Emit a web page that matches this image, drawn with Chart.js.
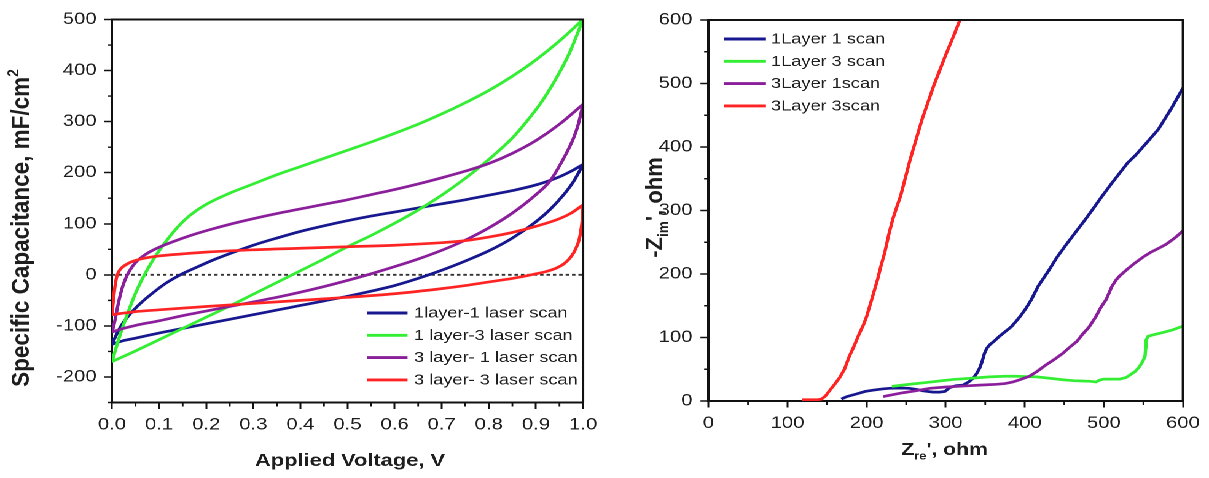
<!DOCTYPE html>
<html><head><meta charset="utf-8">
<script src="https://cdn.jsdelivr.net/npm/chart.js@4.4.1/dist/chart.umd.min.js"></script>
<style>
html,body{margin:0;padding:0;background:#fff;overflow:hidden;width:1209px;height:478px;}
#stage{position:absolute;left:0;top:0;width:984px;height:478px;transform-origin:0 0;transform:scaleX(1.22866);}
.box{position:absolute;top:0;width:492px;height:478px;}
#b1{left:0}#b2{left:492px}
</style></head><body>
<div id="stage"><div class="box" id="b1"><canvas id="c1"></canvas></div><div class="box" id="b2"><canvas id="c2"></canvas></div></div>
<script>
// ---------- Left panel: specific capacitance vs applied voltage ----------
const cvLabels = ['1layer-1 laser scan', '1 layer-3 laser scan', '3 layer- 1 laser scan', '3 layer- 3 laser scan'];
const cvXTicks = [0, 0.1, 0.2, 0.3, 0.4, 0.5, 0.6, 0.7, 0.8, 0.9, 1.0];
const cvXMinor = [0.05, 0.15, 0.25, 0.35, 0.45, 0.55, 0.65, 0.75, 0.85, 0.95];
const cvYTicks = [-200, -100, 0, 100, 200, 300, 400, 500];
const cvYMinor = [-250, -150, -50, 50, 150, 250, 350, 450];
const zeroLineV = [0, 1];
const zeroLineC = [0, 0];

// forward (upper) and reverse (lower) branches, voltage ascending
const cvV_fwd_1L1S = [0,0.01,0.02,0.03,0.045,0.065,0.09,0.115,0.145,0.18,0.22,0.26,0.3,0.35,0.4,0.45,0.5,0.55,0.6,0.65,0.7,0.75,0.8,0.85,0.9,0.95,0.975,1.0];
const cvC_fwd_1L1S = [-136,-116,-99,-86,-70,-52,-33,-16,0,15,31,45,58,72,85,96,106,115,123,131,139,147,156,165,176,192,203,216];
const cvV_rev_1L1S = [0,0.02,0.05,0.1,0.15,0.2,0.25,0.3,0.35,0.4,0.45,0.5,0.55,0.6,0.65,0.7,0.75,0.8,0.85,0.9,0.93,0.96,0.98,1.0];
const cvC_rev_1L1S = [-136,-130,-124,-114,-105,-96,-87,-78,-69,-60,-51,-42,-32,-21,-7,9,27,47,72,104,128,158,183,216];

const cvV_fwd_1L3S = [0,0.01,0.02,0.03,0.04,0.05,0.06,0.07,0.085,0.1,0.12,0.14,0.165,0.2,0.25,0.3,0.35,0.4,0.45,0.5,0.55,0.6,0.65,0.7,0.75,0.8,0.85,0.9,0.95,1.0];
const cvC_fwd_1L3S = [-170,-139,-110,-84,-59,-36,-16,2,26,47,72,94,116,138,160,178,196,212,228,244,260,277,295,315,337,361,389,421,458,500];
const cvV_rev_1L3S = [0,0.05,0.1,0.15,0.2,0.25,0.3,0.35,0.4,0.45,0.5,0.55,0.6,0.65,0.7,0.75,0.8,0.85,0.88,0.91,0.94,0.97,1.0];
const cvC_rev_1L3S = [-170,-149,-127,-105,-83,-61,-38,-15,8,31,55,77,101,127,156,189,226,268,300,336,380,432,500];

const cvV_fwd_3L1S = [0,0.004,0.008,0.013,0.018,0.024,0.031,0.04,0.05,0.065,0.08,0.1,0.13,0.17,0.21,0.25,0.3,0.35,0.4,0.45,0.5,0.55,0.6,0.65,0.7,0.75,0.8,0.85,0.9,0.95,1.0];
const cvC_fwd_3L1S = [-112,-99,-81,-58,-38,-19,-3,12,24,36,45,54,65,78,89,99,110,120,129,138,147,157,167,178,190,203,218,238,263,295,334];
const cvV_rev_3L1S = [0,0.02,0.05,0.1,0.15,0.2,0.25,0.3,0.35,0.4,0.45,0.5,0.55,0.6,0.65,0.7,0.75,0.8,0.85,0.9,0.93,0.96,0.98,0.99,1.0];
const cvC_rev_3L1S = [-112,-106,-99,-90,-80,-71,-62,-53,-44,-34,-23,-11,2,16,31,48,68,92,121,157,184,230,268,295,334];

const cvV_fwd_3L3S = [0,0.002,0.004,0.006,0.008,0.01,0.013,0.017,0.022,0.03,0.04,0.055,0.075,0.1,0.15,0.2,0.3,0.4,0.5,0.6,0.7,0.75,0.8,0.85,0.9,0.95,0.975,1.0];
const cvC_fwd_3L3S = [-78,-58,-40,-25,-13,-4,4,10,15,20,25,29.5,33.5,37,41,44.5,49,52,55,58,63,67,74,83,95,110,121,137];
const cvV_rev_3L3S = [0,0.02,0.05,0.1,0.2,0.3,0.4,0.5,0.6,0.7,0.75,0.8,0.85,0.88,0.9,0.92,0.94,0.96,0.975,0.985,0.992,0.996,0.999,1.0];
const cvC_rev_3L3S = [-78,-75.5,-72,-68.5,-62,-56,-50,-44,-37,-27,-21,-14,-7,-2,2,6,12,22,36,52,70,90,115,137];

// ---------- Right panel: Nyquist plot ----------
const eisLabels = ['1Layer 1 scan', '1Layer 3 scan', '3Layer 1scan', '3Layer 3scan'];
const eisTicks = [0, 100, 200, 300, 400, 500, 600];
const eisMinor = [50, 150, 250, 350, 450, 550];

const eisZre_1L1S = [168,175,187,198,208,220,229,242,254,264,271,284,292,299,305,313,322,329,335,340,343,346,349,352,356,362,368,375,383,390,394,401,408,417,430,440,451,465,476,486,498,510,520,530,540,555,569,585,600];
const eisZim_1L1S = [3,7,11,15,17,19,20,20.5,20,18,16,14,14,15,21,24,25,30,36,45,52,62,75,83,89,95,102,109,117,127,133,145,159,181,205,225,244,267,285,302,323,343,359,375,387,408,428,460,493];
const eisZre_1L3S = [232,245,259,275,292,310,334,355,375,389,402,415,430,448,462,473,483,490,495,500,510,520,528,533,540,545,549,552,553,553.5,556,565,575,587,600];
const eisZim_1L3S = [23,25,27,29,31.5,34,36,38,39,39,38.5,38,36,33.5,32,31.5,31,30,33,34.5,34.5,34.5,37,41,47,54,62,70,85,96,102,105,108,112,118];
const eisZre_3L1S = [221,233,246,262,280,300,322,343,364,375,385,395,406,416,427,438,448,458,466,473,481,490,496,503,510,515,520,530,540,550,559,570,579,590,600];
const eisZim_3L1S = [7,10,13,16,20,22,23.5,25,26.3,27.5,30,34,39,47,57,66,75,86,94,105,116,133,147,160,180,190,197,208,218,227,234,241,247,257,268];
const eisZre_3L3S = [118,128,138,143,148,153,160,166,172,178,184,190,196,200,206,210,214,218,223,228,233,238,243,255,270,285,300,310,318];
const eisZim_3L3S = [2,2,2,3,8,16,27,37,50,70,86,104,120,133,158,175,192,212,234,262,286,305,323,380,443,497,545,575,600];

// ---------- styling ----------
const COLORS = ['#17178f', '#33ee33', '#8b1f9b', '#ff2424'];
const FONT = '"Liberation Sans", Arial, Helvetica, sans-serif';
const TXT = '#1e1e1e';

const zip = (xs, ys) => xs.map((x, i) => ({x: x, y: ys[i]}));

function richDraw(ctx, segs, f, x, y, measureOnly) {
  let w = 0;
  segs.forEach(s => {
    const fs = s.k ? f * 0.62 : f;
    ctx.font = 'bold ' + fs + 'px ' + FONT;
    const dy = s.k === 'sub' ? f * 0.27 : (s.k === 'sup' ? -f * 0.42 : 0);
    if (!measureOnly) ctx.fillText(s.t, x + w, y + dy);
    w += ctx.measureText(s.t).width;
  });
  return w;
}

function decoPlugin(cfg) {
  return {
    id: 'deco',
    afterDraw(chart) {
      const ctx = chart.ctx, a = chart.chartArea, xs = chart.scales.x, ys = chart.scales.y;
      ctx.save();
      ctx.strokeStyle = '#111'; ctx.lineWidth = 2;
      ctx.beginPath();
      ctx.moveTo(a.left, a.top); ctx.lineTo(a.right, a.top); ctx.lineTo(a.right, a.bottom);
      ctx.stroke();
      ctx.lineWidth = 1.4;
      ctx.beginPath();
      cfg.xMinor.forEach(v => { const p = xs.getPixelForValue(v); ctx.moveTo(p, a.bottom); ctx.lineTo(p, a.bottom + 4); });
      cfg.yMinor.forEach(v => { const p = ys.getPixelForValue(v); ctx.moveTo(a.left, p); ctx.lineTo(a.left - 3.5, p); });
      ctx.stroke();
      ctx.fillStyle = TXT; ctx.textBaseline = 'alphabetic'; ctx.textAlign = 'left';
      const wx = richDraw(ctx, cfg.xTitle, cfg.xTitleSize, 0, 0, true);
      richDraw(ctx, cfg.xTitle, cfg.xTitleSize, cfg.xTitleCx - wx / 2, cfg.xTitleBase, false);
      ctx.save();
      ctx.translate(cfg.yTitleBase, cfg.yTitleCy);
      ctx.scale(0.9, 1);
      ctx.rotate(-Math.PI / 2);
      const wy = richDraw(ctx, cfg.yTitle, cfg.yTitleSize, 0, 0, true);
      richDraw(ctx, cfg.yTitle, cfg.yTitleSize, -wy / 2, 0, false);
      ctx.restore();
      ctx.font = cfg.legendSize + 'px ' + FONT;
      ctx.textBaseline = 'middle';
      cfg.legend.forEach((lab, i) => {
        const yy = cfg.legY0 + i * cfg.legDy;
        ctx.strokeStyle = COLORS[i]; ctx.lineWidth = 2.9;
        ctx.beginPath(); ctx.moveTo(cfg.legX0, yy); ctx.lineTo(cfg.legX1, yy); ctx.stroke();
        ctx.fillStyle = TXT;
        ctx.fillText(lab, cfg.legTx, yy + 0.5);
      });
      ctx.restore();
    }
  };
}

function axisOpts(min, max, ticks, fmt, fitFn, pad) {
  return {
    type: 'linear', min: min, max: max,
    afterFit: fitFn,
    afterBuildTicks: s => { s.ticks = ticks.map(v => ({value: v})); },
    ticks: {callback: fmt, font: {family: FONT, size: 16.5}, color: TXT, padding: pad, maxRotation: 0, autoSkip: false},
    grid: {display: true, drawOnChartArea: false, drawTicks: true, tickLength: 6.5, tickColor: '#111', tickWidth: 1.5},
    border: {display: true, color: '#111', width: 2}
  };
}

function lineDS(label, pts, color, smooth) {
  return {label: label, data: pts, borderColor: color, backgroundColor: color, borderWidth: 2.7,
          pointRadius: 0, fill: false, tension: 0, cubicInterpolationMode: smooth ? 'monotone' : 'default'};
}

// ---------- Left chart ----------
const cvSeries = [
  [cvV_fwd_1L1S, cvC_fwd_1L1S, cvV_rev_1L1S, cvC_rev_1L1S],
  [cvV_fwd_1L3S, cvC_fwd_1L3S, cvV_rev_1L3S, cvC_rev_1L3S],
  [cvV_fwd_3L1S, cvC_fwd_3L1S, cvV_rev_3L1S, cvC_rev_3L1S],
  [cvV_fwd_3L3S, cvC_fwd_3L3S, cvV_rev_3L3S, cvC_rev_3L3S]
];
const cvDatasets = [];
for (let i = cvSeries.length - 1; i >= 0; i--) {
  const s = cvSeries[i];
  cvDatasets.push(lineDS(cvLabels[i], zip(s[0], s[1]), COLORS[i], true));
  cvDatasets.push(lineDS(cvLabels[i] + ' (reverse)', zip(s[2], s[3]), COLORS[i], true));
}
cvDatasets.push({label: 'zero', data: zip(zeroLineV, zeroLineC), borderColor: '#333', borderWidth: 1.9,
                 borderDash: [2.8, 2.4], pointRadius: 0, fill: false});

new Chart(document.getElementById('c1'), {
  type: 'line',
  data: {datasets: cvDatasets},
  options: {
    responsive: true, maintainAspectRatio: false, animation: false, devicePixelRatio: 2,
    layout: {autoPadding: false, padding: {left: 0, right: 13.4, top: 19.5, bottom: 0}},
    plugins: {legend: {display: false}, tooltip: {enabled: false}},
    scales: {
      x: axisOpts(0, 1, cvXTicks, v => Number(v).toFixed(1), s => { s.height = 75.5; }, 6),
      y: axisOpts(-250, 500, cvYTicks, v => String(v), s => { s.width = 91.15; }, 6)
    }
  },
  plugins: [decoPlugin({
    xMinor: cvXMinor, yMinor: cvYMinor,
    xTitle: [{t: 'Applied Voltage, V'}], xTitleSize: 17.8, xTitleCx: 284.9, xTitleBase: 466,
    yTitle: [{t: 'Specific Capacitance, mF/cm'}, {t: '2', k: 'sup'}], yTitleSize: 22.5, yTitleBase: 23.4, yTitleCy: 228,
    legend: cvLabels, legendSize: 14.8, legX0: 298.7, legX1: 331.7, legTx: 337, legY0: 313, legDy: 22.3
  })]
});

// ---------- Right chart ----------
const eisSeries = [
  [eisZre_1L1S, eisZim_1L1S], [eisZre_1L3S, eisZim_1L3S], [eisZre_3L1S, eisZim_3L1S], [eisZre_3L3S, eisZim_3L3S]
];
const eisDatasets = [];
for (let i = eisSeries.length - 1; i >= 0; i--) {
  eisDatasets.push(lineDS(eisLabels[i], zip(eisSeries[i][0], eisSeries[i][1]), COLORS[i], false));
}

new Chart(document.getElementById('c2'), {
  type: 'line',
  data: {datasets: eisDatasets},
  options: {
    responsive: true, maintainAspectRatio: false, animation: false, devicePixelRatio: 2,
    layout: {autoPadding: false, padding: {left: 0, right: 21.2, top: 20, bottom: 0}},
    plugins: {legend: {display: false}, tooltip: {enabled: false}},
    scales: {
      x: axisOpts(0, 600, eisTicks, v => String(v), s => { s.height = 77; }, 6),
      y: axisOpts(0, 600, eisTicks, v => String(v), s => { s.width = 84.6; }, 6.5)
    }
  },
  plugins: [decoPlugin({
    xMinor: eisMinor, yMinor: eisMinor,
    xTitle: [{t: 'Z'}, {t: 're', k: 'sub'}, {t: "', ohm"}], xTitleSize: 17.2, xTitleCx: 276.7, xTitleBase: 455,
    yTitle: [{t: '-Z'}, {t: 'im', k: 'sub'}, {t: "', ohm"}], yTitleSize: 22, yTitleBase: 46.8, yTitleCy: 207.5,
    legend: eisLabels, legendSize: 14.8, legX0: 97.2, legX1: 131.4, legTx: 135.5, legY0: 39, legDy: 22.3
  })]
});
</script>
</body></html>
